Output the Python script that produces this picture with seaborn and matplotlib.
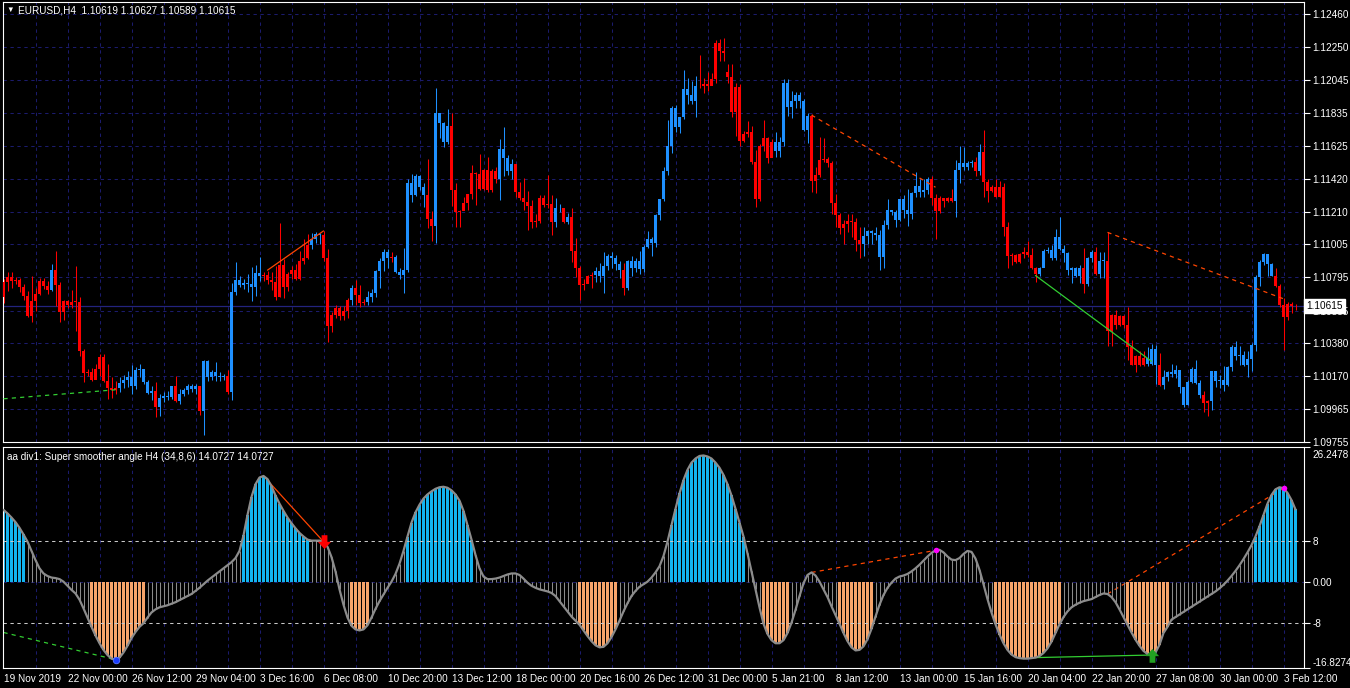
import numpy as np
import matplotlib
matplotlib.use("Agg")
import matplotlib.pyplot as plt
import matplotlib.transforms as mtrans
from matplotlib.path import Path
import seaborn as sns

sns.set_theme(style="dark")
plt.rcParams["font.family"] = ["Liberation Sans", "DejaVu Sans"]
plt.rcParams["lines.scale_dashes"] = False

# ---------------- data ----------------
symbol_text = "EURUSD,H4  1.10619 1.10627 1.10589 1.10615"
osc_text = "aa div1: Super smoother angle H4 (34,8,6) 14.0727 14.0727"

first_open = 1.10669
open_gaps = {181: 1.12094}

close = [
    1.10768, 1.10799, 1.10774, 1.10778, 1.10732, 1.10675, 1.10553, 1.10648, 1.10690, 1.10774,
    1.10743, 1.10717, 1.10843, 1.10747, 1.10574, 1.10648, 1.10623, 1.10642, 1.10638, 1.10327,
    1.10190, 1.10196, 1.10144, 1.10217, 1.10291, 1.10140, 1.10098, 1.10081, 1.10096, 1.10129,
    1.10150, 1.10163, 1.10108, 1.10213, 1.10217, 1.10133, 1.10064, 1.10077, 1.09976, 1.10035,
    1.10043, 1.10039, 1.10106, 1.10014, 1.10056, 1.10081, 1.10108, 1.10091, 1.10106, 1.09951,
    1.10270, 1.10165, 1.10196, 1.10175, 1.10165, 1.10171, 1.10070, 1.10701, 1.10780, 1.10749,
    1.10759, 1.10753, 1.10736, 1.10820, 1.10806, 1.10812, 1.10780, 1.10764, 1.10673, 1.10875,
    1.10732, 1.10816, 1.10843, 1.10785, 1.10900, 1.10917, 1.10999, 1.11037, 1.11068, 1.11062,
    1.10921, 1.10490, 1.10558, 1.10602, 1.10551, 1.10583, 1.10652, 1.10731, 1.10681, 1.10632,
    1.10639, 1.10674, 1.10695, 1.10836, 1.10899, 1.10958, 1.10920, 1.10926, 1.10832, 1.10811,
    1.10843, 1.11395, 1.11315, 1.11437, 1.11368, 1.11315, 1.11164, 1.11122, 1.11834, 1.11771,
    1.11651, 1.11752, 1.11346, 1.11206, 1.11214, 1.11267, 1.11321, 1.11456, 1.11447, 1.11357,
    1.11473, 1.11347, 1.11466, 1.11416, 1.11605, 1.11550, 1.11466, 1.11515, 1.11332, 1.11294,
    1.11273, 1.11248, 1.11147, 1.11153, 1.11294, 1.11252, 1.11262, 1.11147, 1.11237, 1.11231,
    1.11143, 1.11178, 1.10962, 1.10857, 1.10748, 1.10752, 1.10805, 1.10811, 1.10836, 1.10801,
    1.10868, 1.10931, 1.10916, 1.10880, 1.10843, 1.10727, 1.10899, 1.10857, 1.10899, 1.10847,
    1.10990, 1.11038, 1.11010, 1.11187, 1.11288, 1.11470, 1.11628, 1.11865, 1.11748, 1.11810,
    1.11985, 1.11949, 1.11907, 1.12006, 1.12002, 1.12016, 1.12006, 1.12052, 1.12277, 1.12226,
    1.12216, 1.12063, 1.11838, 1.12000, 1.11655, 1.11701, 1.11716, 1.11523, 1.11288, 1.11628,
    1.11674, 1.11548, 1.11653, 1.11596, 1.11653, 1.12027, 1.11874, 1.11907, 1.11949, 1.11907,
    1.11727, 1.11817, 1.11407, 1.11445, 1.11538, 1.11544, 1.11517, 1.11265, 1.11187, 1.11107,
    1.11134, 1.11149, 1.11145, 1.11034, 1.11008, 1.11055, 1.11086, 1.11078, 1.11061, 1.10924,
    1.11124, 1.11220, 1.11208, 1.11160, 1.11292, 1.11220, 1.11193, 1.11328, 1.11376, 1.11338,
    1.11349, 1.11418, 1.11298, 1.11214, 1.11298, 1.11275, 1.11298, 1.11277, 1.11475, 1.11519,
    1.11496, 1.11519, 1.11527, 1.11466, 1.11586, 1.11399, 1.11342, 1.11368, 1.11305, 1.11368,
    1.11115, 1.10931, 1.10937, 1.10891, 1.10941, 1.10958, 1.10937, 1.10853, 1.10817, 1.10857,
    1.10962, 1.10969, 1.10916, 1.11052, 1.10975, 1.10947, 1.10842, 1.10857, 1.10807, 1.10857,
    1.10752, 1.10920, 1.10958, 1.10815, 1.10899, 1.10899, 1.10454, 1.10555, 1.10496, 1.10549,
    1.10492, 1.10353, 1.10244, 1.10296, 1.10240, 1.10286, 1.10250, 1.10345, 1.10240, 1.10118,
    1.10164, 1.10198, 1.10185, 1.10213, 1.10101, 1.09992, 1.10135, 1.10219, 1.10129, 1.10051,
    1.10002, 1.10013, 1.10202, 1.10139, 1.10150, 1.10118, 1.10227, 1.10353, 1.10296, 1.10303,
    1.10240, 1.10282, 1.10370, 1.10800, 1.10895, 1.10941, 1.10878, 1.10807, 1.10744, 1.10622,
    1.10548, 1.10626, 1.10612, 1.10615,
]

high = [
    1.10785, 1.10827, 1.10827, 1.10799, 1.10789, 1.10751, 1.10711, 1.10806, 1.10726, 1.10789,
    1.10791, 1.10774, 1.10883, 1.10963, 1.10768, 1.10654, 1.10654, 1.10715, 1.10869, 1.10669,
    1.10343, 1.10217, 1.10222, 1.10249, 1.10312, 1.10312, 1.10249, 1.10165, 1.10138, 1.10165,
    1.10180, 1.10203, 1.10243, 1.10228, 1.10249, 1.10217, 1.10144, 1.10112, 1.10133, 1.10060,
    1.10070, 1.10075, 1.10112, 1.10175, 1.10087, 1.10096, 1.10121, 1.10121, 1.10121, 1.10112,
    1.10276, 1.10276, 1.10213, 1.10259, 1.10196, 1.10186, 1.10207, 1.10759, 1.10894, 1.10806,
    1.10785, 1.10816, 1.10858, 1.10873, 1.10925, 1.10827, 1.10837, 1.10827, 1.10869, 1.11139,
    1.10911, 1.10827, 1.10869, 1.10879, 1.10963, 1.11037, 1.11068, 1.11079, 1.11083, 1.11079,
    1.11089, 1.10974, 1.10578, 1.10621, 1.10615, 1.10615, 1.10665, 1.10748, 1.10780, 1.10748,
    1.10660, 1.10710, 1.10723, 1.10843, 1.10916, 1.10975, 1.10975, 1.10958, 1.10937, 1.10857,
    1.10979, 1.11416, 1.11447, 1.11447, 1.11445, 1.11389, 1.11542, 1.11214, 1.11991, 1.11834,
    1.11777, 1.11857, 1.11834, 1.11389, 1.11220, 1.11305, 1.11321, 1.11504, 1.11462, 1.11578,
    1.11479, 1.11557, 1.11479, 1.11494, 1.11672, 1.11746, 1.11567, 1.11546, 1.11515, 1.11399,
    1.11424, 1.11340, 1.11284, 1.11193, 1.11319, 1.11315, 1.11441, 1.11319, 1.11300, 1.11262,
    1.11235, 1.11200, 1.11235, 1.11042, 1.10870, 1.10786, 1.10811, 1.10832, 1.10863, 1.10885,
    1.10958, 1.10943, 1.10958, 1.10937, 1.10899, 1.10885, 1.10906, 1.10933, 1.10920, 1.10962,
    1.11000, 1.11088, 1.11053, 1.11197, 1.11292, 1.11496, 1.11790, 1.11880, 1.11886, 1.11810,
    1.12105, 1.12054, 1.12037, 1.12069, 1.12201, 1.12058, 1.12096, 1.12084, 1.12294, 1.12300,
    1.12310, 1.12142, 1.12142, 1.12021, 1.12016, 1.11722, 1.11781, 1.11754, 1.11603, 1.11638,
    1.11790, 1.11680, 1.11670, 1.11712, 1.11680, 1.12048, 1.12048, 1.11974, 1.11970, 1.11964,
    1.11922, 1.11832, 1.11827, 1.11491, 1.11680, 1.11676, 1.11559, 1.11529, 1.11323, 1.11202,
    1.11155, 1.11197, 1.11197, 1.11172, 1.11113, 1.11113, 1.11092, 1.11092, 1.11113, 1.11092,
    1.11160, 1.11288, 1.11223, 1.11223, 1.11292, 1.11313, 1.11355, 1.11334, 1.11460, 1.11418,
    1.11418, 1.11428, 1.11439, 1.11323, 1.11309, 1.11298, 1.11306, 1.11355, 1.11538, 1.11628,
    1.11617, 1.11534, 1.11538, 1.11554, 1.11638, 1.11725, 1.11420, 1.11378, 1.11420, 1.11405,
    1.11395, 1.11143, 1.10947, 1.10941, 1.10947, 1.10990, 1.11025, 1.10979, 1.10860, 1.10864,
    1.10975, 1.10990, 1.10999, 1.11101, 1.11179, 1.10999, 1.10958, 1.10864, 1.10864, 1.10875,
    1.10979, 1.10927, 1.10969, 1.10990, 1.10958, 1.10958, 1.11080, 1.10563, 1.10591, 1.10559,
    1.10559, 1.10611, 1.10402, 1.10307, 1.10328, 1.10328, 1.10353, 1.10374, 1.10370, 1.10318,
    1.10213, 1.10206, 1.10248, 1.10240, 1.10168, 1.10105, 1.10150, 1.10227, 1.10276, 1.10150,
    1.10076, 1.10023, 1.10206, 1.10206, 1.10178, 1.10234, 1.10234, 1.10366, 1.10395, 1.10360,
    1.10328, 1.10328, 1.10381, 1.10811, 1.10906, 1.10947, 1.10943, 1.10885, 1.10857, 1.10751,
    1.10664, 1.10639, 1.10639, 1.10627,
]

low = [
    1.10633, 1.10707, 1.10726, 1.10751, 1.10705, 1.10650, 1.10543, 1.10516, 1.10585, 1.10684,
    1.10722, 1.10692, 1.10711, 1.10617, 1.10511, 1.10528, 1.10600, 1.10600, 1.10459, 1.10297,
    1.10133, 1.10171, 1.10138, 1.10165, 1.10175, 1.10133, 1.10028, 1.10033, 1.10060, 1.10070,
    1.10096, 1.10102, 1.10060, 1.10091, 1.10165, 1.10123, 1.10060, 1.10018, 1.09913, 1.09919,
    1.10007, 1.10018, 1.10028, 1.10007, 1.09993, 1.10045, 1.10056, 1.10070, 1.10056, 1.09923,
    1.09797, 1.10138, 1.10144, 1.10140, 1.10138, 1.10150, 1.10060, 1.10018, 1.10686, 1.10732,
    1.10722, 1.10705, 1.10648, 1.10680, 1.10774, 1.10774, 1.10753, 1.10717, 1.10654, 1.10669,
    1.10663, 1.10707, 1.10785, 1.10780, 1.10780, 1.10879, 1.10911, 1.10974, 1.11015, 1.11005,
    1.10900, 1.10385, 1.10452, 1.10539, 1.10526, 1.10526, 1.10539, 1.10622, 1.10622, 1.10610,
    1.10618, 1.10622, 1.10639, 1.10674, 1.10727, 1.10836, 1.10857, 1.10895, 1.10822, 1.10786,
    1.10695, 1.10832, 1.11273, 1.11311, 1.11347, 1.11242, 1.11109, 1.11025, 1.11015, 1.11676,
    1.11620, 1.11640, 1.11248, 1.11115, 1.11115, 1.11220, 1.11220, 1.11290, 1.11252, 1.11347,
    1.11347, 1.11336, 1.11336, 1.11395, 1.11284, 1.11437, 1.11441, 1.11420, 1.11305, 1.11284,
    1.11220, 1.11094, 1.11109, 1.11115, 1.11136, 1.11242, 1.11231, 1.11063, 1.11115, 1.11210,
    1.11136, 1.11130, 1.10895, 1.10800, 1.10653, 1.10717, 1.10759, 1.10727, 1.10769, 1.10769,
    1.10696, 1.10843, 1.10857, 1.10843, 1.10790, 1.10685, 1.10717, 1.10807, 1.10832, 1.10815,
    1.10832, 1.10979, 1.10933, 1.10987, 1.11155, 1.11277, 1.11445, 1.11580, 1.11712, 1.11706,
    1.11796, 1.11890, 1.11890, 1.11806, 1.11991, 1.11958, 1.11974, 1.12010, 1.12021, 1.12163,
    1.12163, 1.12027, 1.11806, 1.11691, 1.11628, 1.11649, 1.11685, 1.11512, 1.11239, 1.11281,
    1.11596, 1.11517, 1.11559, 1.11559, 1.11559, 1.11628, 1.11817, 1.11802, 1.11865, 1.11865,
    1.11722, 1.11643, 1.11334, 1.11328, 1.11428, 1.11523, 1.11496, 1.11193, 1.11113, 1.11071,
    1.11008, 1.11082, 1.11050, 1.10962, 1.10918, 1.10931, 1.11008, 1.11008, 1.11029, 1.10845,
    1.10855, 1.11099, 1.11187, 1.11113, 1.11151, 1.11172, 1.11120, 1.11162, 1.11302, 1.11302,
    1.11302, 1.11323, 1.11250, 1.11040, 1.11202, 1.11239, 1.11271, 1.11271, 1.11176, 1.11391,
    1.11475, 1.11475, 1.11492, 1.11439, 1.11445, 1.11305, 1.11273, 1.11332, 1.11301, 1.11305,
    1.11057, 1.10857, 1.10874, 1.10884, 1.10884, 1.10915, 1.10926, 1.10849, 1.10765, 1.10807,
    1.10895, 1.10948, 1.10906, 1.10906, 1.10969, 1.10891, 1.10811, 1.10759, 1.10800, 1.10759,
    1.10695, 1.10744, 1.10895, 1.10811, 1.10790, 1.10790, 1.10359, 1.10359, 1.10471, 1.10486,
    1.10475, 1.10275, 1.10240, 1.10198, 1.10233, 1.10233, 1.10233, 1.10240, 1.10122, 1.10108,
    1.10087, 1.10143, 1.10168, 1.10160, 1.10065, 1.09975, 1.09988, 1.10126, 1.10122, 1.10030,
    1.09946, 1.09919, 1.09960, 1.10101, 1.10097, 1.10076, 1.10111, 1.10206, 1.10273, 1.10244,
    1.10233, 1.10164, 1.10202, 1.10332, 1.10744, 1.10874, 1.10801, 1.10801, 1.10737, 1.10611,
    1.10339, 1.10527, 1.10569, 1.10589,
]

# candle colour state as runs: b = blue, r = red
color_runs = [("r", 12), ("b", 1), ("r", 16), ("b", 9), ("r", 1), ("b", 4), ("r", 1), ("b", 5),
              ("r", 1), ("b", 6), ("r", 1), ("b", 8), ("r", 12), ("b", 3), ("r", 7), ("b", 1),
              ("r", 3), ("b", 6), ("r", 1), ("b", 8), ("r", 2), ("b", 4), ("r", 12), ("b", 4),
              ("r", 10), ("b", 2), ("r", 1), ("b", 1), ("r", 6), ("b", 7), ("r", 1), ("b", 18),
              ("r", 19), ("b", 9), ("r", 13), ("b", 17), ("r", 6), ("b", 5), ("r", 1), ("b", 1),
              ("r", 14), ("b", 11), ("r", 1), ("b", 2), ("r", 1), ("b", 2), ("r", 10), ("b", 3),
              ("r", 1), ("b", 10), ("r", 2), ("b", 16), ("r", 6)]

osc = [
    14.0, 13.3, 12.5, 11.6, 10.5, 9.2, 7.8, 6.0, 4.2, 2.6,
    1.6, 1.1, 0.8, 0.7, 0.5, 0.0, -0.8, -1.6, -2.3, -3.5,
    -5.2, -7.0, -8.8, -10.5, -12.0, -13.3, -14.3, -15.0, -15.2, -14.8,
    -13.8, -12.5, -11.0, -9.8, -8.8, -8.1, -7.0, -6.0, -5.4, -5.0,
    -4.8, -4.6, -4.3, -4.0, -3.6, -3.2, -2.8, -2.4, -1.8, -1.2,
    -0.5, 0.2, 0.8, 1.4, 2.0, 2.6, 3.2, 3.8, 4.6, 6.0,
    9.0, 13.0, 16.5, 19.0, 20.3, 20.6, 20.0, 18.6, 16.8, 15.2,
    13.8, 12.5, 11.4, 10.4, 9.5, 8.8, 8.2, 8.0, 8.0, 8.0,
    7.8, 6.8, 4.8, 2.0, -1.5, -4.5, -7.0, -8.6, -9.3, -9.5,
    -9.3, -8.5, -7.0, -5.3, -3.8, -2.5, -1.2, 0.0, 1.5, 3.5,
    6.0, 8.8, 11.5, 13.5, 15.0, 16.2, 17.0, 17.6, 18.1, 18.4,
    18.5, 18.3, 17.8, 17.0, 15.8, 13.8, 11.0, 8.2, 5.2, 2.6,
    1.0, 0.5, 0.5, 0.6, 0.8, 1.1, 1.4, 1.6, 1.6, 1.3,
    0.6, -0.2, -0.8, -1.2, -1.5, -1.7, -1.9, -2.2, -2.8, -3.8,
    -4.8, -5.8, -6.8, -7.6, -8.4, -9.5, -10.6, -11.6, -12.4, -12.8,
    -12.7, -12.0, -10.8, -9.3, -7.6, -5.8, -4.2, -2.8, -1.8, -1.0,
    -0.5, 0.0, 0.8, 1.8, 3.0, 5.0, 7.8, 11.0, 14.2, 17.2,
    19.8, 21.8, 23.2, 24.0, 24.5, 24.6, 24.4, 24.0, 23.2, 22.2,
    20.8, 19.0, 16.8, 14.2, 11.5, 8.8, 5.5, 2.0, -1.5, -5.0,
    -8.2, -10.2, -11.4, -12.0, -12.0, -11.4, -10.0, -8.0, -5.5, -2.8,
    -0.3, 1.3, 1.8, 1.2, 0.0, -1.5, -3.0, -4.8, -6.5, -8.2,
    -10.0, -11.6, -12.8, -13.4, -13.3, -12.6, -11.2, -9.2, -6.8, -4.5,
    -2.6, -1.2, -0.2, 0.6, 1.0, 1.2, 1.5, 2.0, 2.6, 3.3,
    4.1, 4.9, 5.6, 6.1, 6.2, 5.7, 4.9, 4.3, 4.2, 4.6,
    5.4, 6.0, 5.8, 4.5, 2.3, -0.5, -3.4, -6.0, -8.3, -10.3,
    -12.0, -13.3, -14.2, -14.7, -14.9, -15.0, -15.0, -14.9, -14.8, -14.5,
    -13.9, -13.0, -11.7, -10.0, -8.3, -6.9, -5.8, -5.0, -4.5, -4.1,
    -3.8, -3.6, -3.4, -3.0, -2.6, -2.3, -2.4, -3.0, -4.0, -5.4,
    -6.9, -8.4, -9.9, -11.3, -12.5, -13.5, -14.1, -14.3, -13.8, -12.3,
    -10.0, -8.8, -7.4, -6.9, -6.4, -5.9, -5.4, -4.9, -4.4, -3.9,
    -3.4, -2.9, -2.4, -1.9, -1.3, -0.6, 0.2, 1.1, 2.1, 3.2,
    4.4, 5.7, 7.1, 8.8, 10.8, 13.0, 15.2, 16.9, 18.0, 18.4,
    18.2, 17.3, 15.9, 14.07,
]

price_ticks = [1.12460, 1.12250, 1.12045, 1.11835, 1.11625, 1.11420, 1.11210,
               1.11005, 1.10795, 1.10585, 1.10380, 1.10170, 1.09965, 1.09755]
osc_ticks = [26.2478, 8, 0, -8, -16.8274]
osc_tick_labels = ["26.2478", "8", "0.00", "-8", "-16.8274"]
osc_levels = [8, -8]

time_labels = ["19 Nov 2019", "22 Nov 00:00", "26 Nov 12:00", "29 Nov 04:00", "3 Dec 16:00",
               "6 Dec 08:00", "10 Dec 20:00", "13 Dec 12:00", "18 Dec 00:00", "20 Dec 16:00",
               "26 Dec 12:00", "31 Dec 00:00", "5 Jan 21:00", "8 Jan 12:00", "13 Jan 00:00",
               "15 Jan 16:00", "20 Jan 04:00", "22 Jan 20:00", "27 Jan 08:00", "30 Jan 00:00",
               "3 Feb 12:00"]

# divergence lines: (bar from, value from, bar to, value to, colour, style)
price_div = [
    (0, 1.10028, 28, 1.10085, "#32CD32", "dash"),
    (66, 1.10841, 80, 1.11089, "#FF4500", "solid"),
    (202, 1.11821, 233, 1.11365, "#FF4500", "dash"),
    (258, 1.10807, 287, 1.10265, "#32CD32", "solid"),
    (276, 1.11080, 320, 1.10660, "#FF4500", "dash"),
]
osc_div = [
    (0, -9.9, 28, -15.2, "#32CD32", "dash"),
    (65, 20.6, 80, 7.8, "#FF4500", "solid"),
    (202, 1.8, 233, 6.1, "#FF4500", "dash"),
    (258, -14.8, 287, -14.3, "#32CD32", "solid"),
    (276, -2.4, 320, 18.2, "#FF4500", "dash"),
]
# signal marks on the oscillator: (bar, kind)
osc_marks = [(28, "blue_dot"), (80, "sell_arrow"), (233, "magenta_dot"),
             (287, "buy_arrow"), (320, "magenta_dot")]

# ---------------- layout ----------------
W, H = 1350, 688
BG = "black"
GRID = "#1b1b6c"
FG = "white"
FS = 7.2


def px_rect(x0, y0, x1, y1):
    return [x0 / W, 1 - y1 / H, (x1 - x0) / W, (y1 - y0) / H]


fig = plt.figure(figsize=(W / 100, H / 100), dpi=100, facecolor=BG)
ax1 = fig.add_axes(px_rect(3, 2, 1304, 442))
ax2 = fig.add_axes(px_rect(3, 447, 1304, 668))

n = len(close)
idx = np.arange(n)
close_a = np.array(close)
opens = np.r_[first_open, close_a[:-1]]
for k, v in open_gaps.items():
    opens[k] = v
cstate = [c for c, k in color_runs for _ in range(k)]
cmap = {"b": "#1E90FF", "r": "#FF0000"}
ccol = [cmap[c] for c in cstate]

xlim = (-0.125, (1304 - 3.5) / 4)
dash = (0, (2.4, 2.6))

for ax in (ax1, ax2):
    ax.set_facecolor(BG)
    ax.set_xlim(*xlim)
    for x in range(8, n + 1, 8):
        ax.axvline(x, color=GRID, lw=0.75, ls=dash, zorder=0.5)
    for s in ax.spines.values():
        s.set_color(FG)
        s.set_linewidth(0.8)
    ax.grid(False)

# ---------------- price panel ----------------
ax1.set_ylim(1.09755, 1.12460 + 12 * 0.0000632)
for p in price_ticks:
    ax1.axhline(p, color=GRID, lw=0.75, ls=dash, zorder=0.5)
ax1.axhline(close[-1], color="#23237e", lw=0.9, zorder=0.6)

ax1.vlines(idx, low, high, colors=ccol, linewidth=0.75, zorder=2)
body_bot = np.minimum(opens, close_a)
body_h = np.maximum(np.abs(close_a - opens), 0.00005)
ax1.bar(idx, body_h, bottom=body_bot, width=0.75, color=ccol, linewidth=0, zorder=3)

for b0, v0, b1, v1, col, st in price_div:
    sns.lineplot(x=[b0, b1], y=[v0, v1], ax=ax1, color=col, lw=0.9,
                 ls=(0, (3, 3)) if st == "dash" else "-", zorder=4)

ax1.yaxis.tick_right()
ax1.set_yticks(price_ticks)
ax1.set_yticklabels([f"{p:.5f}" for p in price_ticks])
ax1.tick_params(axis="y", colors=FG, labelcolor=FG, labelsize=FS, length=4, width=0.8,
                pad=2, direction="out")
ax1.set_xticks([])
ax1.text(1.0017, close[-1], f"{close[-1]:.5f}", transform=mtrans.blended_transform_factory(
    ax1.transAxes, ax1.transData), ha="left", va="center", color="black", fontsize=FS,
    bbox=dict(boxstyle="square,pad=0.22", fc="white", ec="white"), zorder=10, clip_on=False)

# ---------------- oscillator panel ----------------
osc_a = np.array(osc)
ax2.set_ylim(-16.8274, 26.2478)
ax2.axhline(0, color=GRID, lw=0.75, ls=dash, zorder=0.5)
up = osc_a > 8
dn = osc_a < -8
mid = ~(up | dn)
for b0, v0, b1, v1, col, st in osc_div:
    sns.lineplot(x=[b0, b1], y=[v0, v1], ax=ax2, color=col, lw=0.9,
                 ls=(0, (3, 3)) if st == "dash" else "-", zorder=1)
ax2.bar(idx[up], osc_a[up], width=0.75, color="#12B4F0", linewidth=0, zorder=2)
ax2.bar(idx[dn], osc_a[dn], width=0.75, color="#F7A46A", linewidth=0, zorder=2)
ax2.vlines(idx[mid], 0, osc_a[mid], colors="#8a8a8a", linewidth=0.75, zorder=2)
for lv in osc_levels:
    ax2.axhline(lv, color="#c8c8c8", lw=0.75, ls=dash, zorder=2.5)
sns.lineplot(x=idx, y=osc_a, ax=ax2, color="#8c8c8c", lw=1.6, zorder=3)

down_arrow = Path([(-0.22, 0.55), (0.22, 0.55), (0.22, 0.05), (0.5, 0.05), (0, -0.5),
                   (-0.5, 0.05), (-0.22, 0.05), (-0.22, 0.55)], closed=True)
up_arrow = Path([(x, -y) for x, y in down_arrow.vertices], closed=True)
for b, kind in osc_marks:
    v = osc[b]
    if kind == "blue_dot":
        ax2.scatter([b], [v], s=22, color="#1a3cff", edgecolors="#5a78ff", lw=0.6, zorder=6)
    elif kind == "magenta_dot":
        ax2.scatter([b], [v], s=16, color="#FF00FF", lw=0, zorder=6)
    elif kind == "sell_arrow":
        ax2.scatter([b], [v], s=110, marker=down_arrow, color="#FF0000", lw=0, zorder=6)
    else:
        ax2.scatter([b], [v], s=110, marker=up_arrow, color="#22A022", lw=0, zorder=6)

ax2.yaxis.tick_right()
ax2.set_yticks(osc_ticks)
ax2.set_yticklabels(osc_tick_labels)
ax2.tick_params(axis="y", colors=FG, labelcolor=FG, labelsize=FS, length=4, width=0.8,
                pad=2, direction="out")
tl = ax2.get_yticklabels()
tl[0].set_va("top")
tl[0].set_transform(tl[0].get_transform() +
                    mtrans.ScaledTranslation(0, -0.035, fig.dpi_scale_trans))
tl[-1].set_va("bottom")
ax2.set_xticks(np.arange(0, 16 * len(time_labels), 16))
ax2.set_xticklabels(time_labels, ha="left")
ax2.tick_params(axis="x", colors=FG, labelcolor=FG, labelsize=FS, length=4, width=0.8,
                pad=0.5, direction="out")
ax1.set_xlabel("")
ax2.set_xlabel("")
ax1.set_ylabel("")
ax2.set_ylabel("")

# ---------------- header texts ----------------
fig.text(6 / W, 1 - 10.5 / H, "\u25BC", color=FG, fontsize=5.5, va="center", ha="left")
fig.text(18 / W, 1 - 10.5 / H, symbol_text, color=FG, fontsize=FS, va="center", ha="left")
fig.text(7 / W, 1 - 457 / H, osc_text, color=FG, fontsize=FS, va="center", ha="left")

fig.savefig("out.png", dpi=100, facecolor=BG)
